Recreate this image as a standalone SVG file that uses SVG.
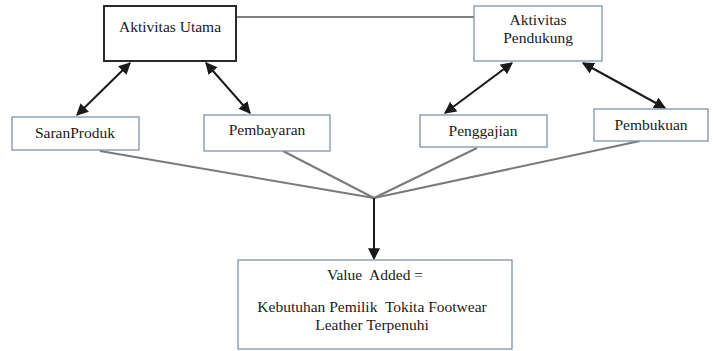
<svg xmlns="http://www.w3.org/2000/svg" width="713" height="351" viewBox="0 0 713 351">
  <style>
    .box { fill: #ffffff; stroke: #7d93aa; stroke-width: 1.3; }
    .main { fill: #ffffff; stroke: #2a2a2a; stroke-width: 2; }
    .lbl { font-family: "Liberation Serif", "Times New Roman", "DejaVu Serif", serif; font-size: 15.5px; fill: #1a1a1a; text-anchor: middle; white-space: pre; }
    .arrow { stroke: #1a1a1a; stroke-width: 2; fill: none; }
    .feed { stroke: #7a7a7a; stroke-width: 2; fill: none; }
    .link { stroke: #555555; stroke-width: 1.5; fill: none; }
  </style>
  <defs>
    <marker id="head" viewBox="0 0 10 10" refX="9" refY="5" markerWidth="6" markerHeight="6" orient="auto-start-reverse" markerUnits="strokeWidth">
      <path d="M0,0 L10,5 L0,10 Z" fill="#1a1a1a"/>
    </marker>
  </defs>

  <rect width="713" height="351" fill="#ffffff"/>

  <g id="connectors">
    <line class="link" x1="236" y1="17" x2="474" y2="17"/>
    <line class="arrow" x1="130" y1="63" x2="77" y2="115" marker-start="url(#head)" marker-end="url(#head)"/>
    <line class="arrow" x1="206" y1="63" x2="250" y2="113" marker-start="url(#head)" marker-end="url(#head)"/>
    <line class="arrow" x1="512" y1="63" x2="445" y2="113" marker-start="url(#head)" marker-end="url(#head)"/>
    <line class="arrow" x1="583" y1="63" x2="665" y2="108" marker-start="url(#head)" marker-end="url(#head)"/>
    <line class="feed" x1="100" y1="151" x2="374" y2="198"/>
    <line class="feed" x1="283" y1="151" x2="374" y2="198"/>
    <line class="feed" x1="477" y1="148" x2="374" y2="198"/>
    <line class="feed" x1="640" y1="141" x2="374" y2="198"/>
    <line class="arrow" x1="374" y1="198" x2="374" y2="259" marker-end="url(#head)"/>
  </g>

  <g id="aktivitas-utama">
    <rect class="main" x="104" y="6" width="132" height="55"/>
    <text class="lbl" x="170" y="32">Aktivitas Utama</text>
  </g>

  <g id="aktivitas-pendukung">
    <rect class="box" x="474" y="6" width="128" height="55"/>
    <text class="lbl" x="538" y="25">Aktivitas</text>
    <text class="lbl" x="538" y="43">Pendukung</text>
  </g>

  <g id="saran-produk">
    <rect class="box" x="12" y="117" width="127" height="33"/>
    <text class="lbl" x="75" y="138">SaranProduk</text>
  </g>

  <g id="pembayaran">
    <rect class="box" x="204" y="115" width="126" height="36"/>
    <text class="lbl" x="267" y="135">Pembayaran</text>
  </g>

  <g id="penggajian">
    <rect class="box" x="420" y="115" width="127" height="32"/>
    <text class="lbl" x="483" y="136">Penggajian</text>
  </g>

  <g id="pembukuan">
    <rect class="box" x="594" y="109" width="114" height="32"/>
    <text class="lbl" x="651" y="130">Pembukuan</text>
  </g>

  <g id="value-added">
    <rect class="box" x="238" y="260" width="274" height="89"/>
    <text class="lbl" x="375" y="280" xml:space="preserve">Value  Added =</text>
    <text class="lbl" x="372" y="312" xml:space="preserve">Kebutuhan Pemilik  Tokita Footwear</text>
    <text class="lbl" x="372" y="330">Leather Terpenuhi</text>
  </g>
</svg>
